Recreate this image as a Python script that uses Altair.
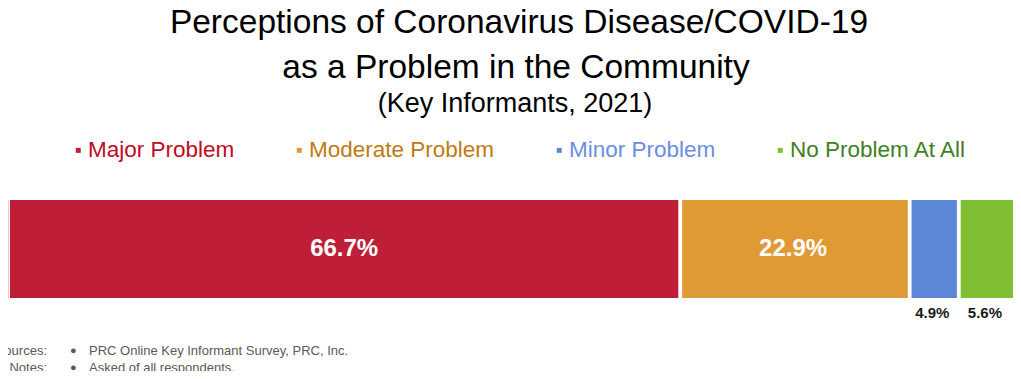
import altair as alt
import pandas as pd

# ---- data ----
CATEGORIES = ["Major Problem", "Moderate Problem", "Minor Problem", "No Problem At All"]
VALUES = [66.7, 22.9, 4.9, 5.6]
BAR_COLORS = ["#BE1E37", "#E09A35", "#5B87D6", "#80BF33"]
LEGEND_TEXT_COLORS = ["#C00A1E", "#BF7A12", "#6B8DE2", "#3F7F25"]
LABELS = ["66.7%", "22.9%", "4.9%", "5.6%"]

TITLE_LINES = ["Perceptions of Coronavirus Disease/COVID-19", "as a Problem in the Community"]
SUBTITLE = "(Key Informants, 2021)"
FOOT_HEADS = ["Sources:", "Notes:"]
FOOT_TEXTS = ["PRC Online Key Informant Survey, PRC, Inc.", "Asked of all respondents."]

FONT = "Liberation Sans"
W, H = 1005, 363
GAP = 0.38  # white gap between segments, in value units

df = pd.DataFrame({
    "category": CATEGORIES,
    "value": VALUES,
    "label": LABELS,
    "order": list(range(len(CATEGORIES))),
    "row": ["all"] * len(CATEGORIES),
})

label_color_expr = "[{}][indexof([{}], datum.label)]".format(
    ",".join("'%s'" % c for c in LEGEND_TEXT_COLORS),
    ",".join("'%s'" % c for c in CATEGORIES),
)

xscale = alt.Scale(domain=[0, sum(VALUES)], range=[2, 1005], nice=False, zero=False)
yscale = alt.Scale(range=[192, 290], paddingInner=0, paddingOuter=0)

base = alt.Chart(df).transform_stack(
    stack="value", groupby=["row"], as_=["x0", "x1"], sort=[alt.SortField("order")]
).transform_calculate(
    mid="(datum.x0 + datum.x1) / 2",
    xs="datum.order > 0 ? datum.x0 + %f : datum.x0" % GAP,
)

bars = base.mark_bar().encode(
    x=alt.X("xs:Q", scale=xscale, axis=None),
    x2="x1:Q",
    y=alt.Y("row:N", scale=yscale,
            axis=alt.Axis(title=None, labels=False, ticks=False, grid=False,
                          domainColor="#F3C6CF", domainWidth=1)),
    color=alt.Color(
        "category:N",
        scale=alt.Scale(domain=CATEGORIES, range=BAR_COLORS),
        sort=CATEGORIES,
        legend=alt.Legend(
            title=None, orient="none", legendX=59, legendY=131,
            direction="horizontal", symbolType="square", symbolSize=25,
            symbolStrokeWidth=0, labelFontSize=22.5, labelFont=FONT,
            labelColor=alt.ExprRef(label_color_expr),
            labelOffset=alt.ExprRef("-1.5"),
            columnPadding=53, padding=0, labelLimit=400,
        ),
    ),
)

inside = base.transform_filter("datum.value >= 10").mark_text(
    color="white", fontSize=24, fontWeight="bold", font=FONT, baseline="middle"
).encode(x=alt.X("mid:Q", scale=xscale), y=alt.Y("row:N", scale=yscale), text="label:N")

below = base.transform_filter("datum.value < 10").mark_text(
    color="#1a1a1a", fontSize=15, fontWeight="bold", font=FONT, baseline="middle"
).encode(x=alt.X("mid:Q", scale=xscale), y=alt.value(305), text="label:N")


def txt(s, x, y, size, align="center", color="black", weight="normal"):
    return alt.Chart(pd.DataFrame({"t": [s]})).mark_text(
        fontSize=size, font=FONT, align=align, baseline="alphabetic",
        color=color, fontWeight=weight,
    ).encode(text="t:N", x=alt.value(x), y=alt.value(y))


title1 = txt(TITLE_LINES[0], 511, 25, 33.5)
title2 = txt(TITLE_LINES[1], 508, 70, 33.5)
subtitle = txt(SUBTITLE, 507, 104, 27)

foot = []
for i, (h, t) in enumerate(zip(FOOT_HEADS, FOOT_TEXTS)):
    yy = 347 + i * 17
    foot.append(txt(h, 39, yy, 13, align="right", color="#595959"))
    foot.append(txt("\u25CF", 62, yy - 1, 11, align="left", color="#595959"))
    foot.append(txt(t, 81, yy, 13, align="left", color="#595959"))

chart = alt.layer(bars, inside, below, title1, title2, subtitle, *foot).properties(
    width=W, height=H, autosize=alt.AutoSizeParams(type="none"), padding=0
).configure_view(stroke=None)

chart.save("out.html", embed_options={"renderer": "svg", "actions": False})
